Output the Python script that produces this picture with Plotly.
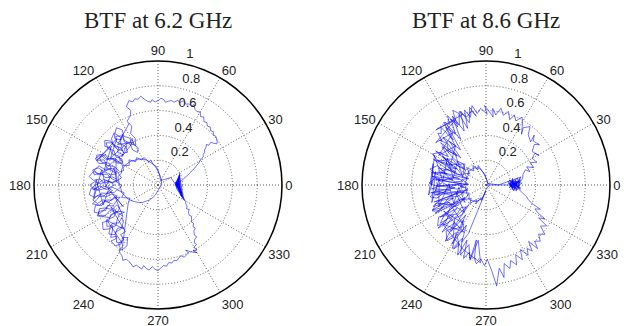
import plotly.graph_objects as go

# ---------------- data: BTF at 6.2 GHz  (theta in degrees, r) ----------------
blob_a_62 = [(0,0.14),(8,0.15),(-6,0.15),(15,0.16),(-12,0.17),(22,0.18),(-18,0.19),(5,0.15),(-24,0.21),(12,0.16),
             (-8,0.16),(28,0.2),(-2,0.14),(-28,0.23),(18,0.17),(-15,0.18),(3,0.16),(-21,0.2),(10,0.14),(-5,0.17),
             (25,0.19),(-30,0.24),(-10,0.15),(2,0.17),(-25,0.22)]
lower_right_62 = [(-28,0.24),(-31,0.26),(-34,0.27),(-36,0.29),(-40,0.30),(-38,0.32),(-42,0.33),(-44,0.35),(-43,0.37),
                  (-46,0.39),(-48,0.40),(-47,0.42),(-50,0.44),(-49,0.46),(-52,0.47),(-54,0.50),(-53,0.52),(-56,0.53),
                  (-58,0.55),(-57,0.57),(-60,0.58),(-59,0.61),(-62,0.60),(-60,0.63),(-64,0.60),(-67,0.57),(-66,0.60)]
bottom_62 = [(-68,0.61),(-70,0.62),(-72,0.60),(-74,0.61),(-76,0.63),(-78,0.62),(-80,0.64),(-82,0.63),(-84,0.66),
             (-86,0.65),(-88,0.67),(-90,0.69),(-92,0.68),(-94,0.66),(-96,0.69),(-98,0.68),(-100,0.66),(-101,0.69),
             (-103,0.68),(-105,0.67),(-107,0.69),(-109,0.67),(-111,0.66),(-113,0.65),(-115,0.67),(-117,0.64),
             (-119,0.63),(-121,0.61)]
band_a_62 = [(240,0.60),(236,0.57),(238,0.52),(233,0.50),(235,0.46),(230,0.44),(227,0.48),(229,0.53),(225,0.56),
             (222,0.52),(224,0.47),(220,0.43),(217,0.39),(219,0.35),(215,0.37),(212,0.42),(214,0.47),(210,0.51),
             (207,0.55),(204,0.52),(206,0.47),(202,0.44),(205,0.40),(201,0.36),(198,0.32),(196,0.37),(199,0.42),
             (195,0.46),(197,0.51),(193,0.54),(190,0.50),(192,0.45),(188,0.41),(190,0.36),(186,0.33),(183,0.37),
             (185,0.42),(181,0.47),(184,0.52),(180,0.55),(177,0.51),(179,0.46),(175,0.42),(177,0.37),(173,0.33),
             (170,0.37),(172,0.43),(168,0.47),(171,0.52),(167,0.54),(164,0.50),(166,0.45),(162,0.41),(164,0.36),
             (160,0.34),(157,0.38),(159,0.44),(155,0.48),(158,0.53),(154,0.55),(151,0.51),(153,0.46),(149,0.42),
             (151,0.38),(147,0.36),(144,0.40),(146,0.45),(142,0.49),(144,0.53),(140,0.56),(137,0.52),(139,0.47),
             (135,0.43),(137,0.38),(133,0.36),(130,0.40),(132,0.45),(128,0.49),(130,0.54),(126,0.57),(123,0.53),
             (125,0.48),(121,0.44),(123,0.39),(119,0.37),(116,0.42),(118,0.47),(114,0.52),(116,0.57),(112,0.60),
             (110,0.64),(112,0.68),(109,0.72)]
top_62 = [(107,0.70),(105,0.72),(103,0.71),(101,0.73),(99,0.70),(97,0.68),(95,0.67),(94,0.69),(92,0.67),(90,0.68),
          (88,0.70),(86,0.69),(85,0.67),(83,0.68),(81,0.69),(79,0.68),(77,0.70),(75,0.69),(73,0.71),(71,0.69),
          (69,0.70),(67,0.69),(66,0.71),(64,0.68),(62,0.67),(60,0.68),(58,0.65),(56,0.66),(54,0.63),(52,0.64),
          (50,0.62),(48,0.63),(46,0.61),(44,0.62),(42,0.60),(40,0.61),(38,0.60),(36,0.59),(35,0.58),(37,0.56),
          (39,0.55),(38,0.52),(40,0.51),(38,0.49),(37,0.47),(35,0.46),(34,0.44),(32,0.43),(31,0.41),(30,0.39),
          (28,0.37),(27,0.35),(25,0.33),(23,0.30),(21,0.28),(18,0.25),(16,0.23),(13,0.21),(10,0.19)]
blob_b_62 = [(8,0.17),(-3,0.15),(14,0.17),(-10,0.17),(20,0.18),(1,0.14),(-16,0.19),(6,0.16),(-22,0.21),(11,0.15),
             (-7,0.16),(-27,0.22),(4,0.15),(-13,0.18),(17,0.17),(-1,0.15),(24,0.19),(-19,0.2),(30,0.12),(45,0.06)]
ring_a_62 = [(60,0.04),(80,0.08),(92,0.12),(100,0.16),(108,0.19),(114,0.22),(120,0.24),(126,0.26),(132,0.27),
             (138,0.29),(144,0.30),(150,0.31),(156,0.32),(162,0.31),(168,0.33),(174,0.32),(180,0.31),(186,0.30),
             (192,0.30),(198,0.28),(204,0.27),(210,0.25),(216,0.23),(222,0.21),(228,0.19),(234,0.16),(240,0.14),
             (248,0.11),(256,0.08),(266,0.05),(290,0.03),(20,0.03),(55,0.05)]
ring_b_62 = [(75,0.07),(88,0.11),(95,0.15),(103,0.17),(106,0.21),(112,0.20),(117,0.25),(123,0.24),(128,0.28),
             (134,0.26),(139,0.31),(146,0.28),(151,0.33),(157,0.30),(163,0.34),(169,0.30),(175,0.34),(181,0.29),
             (187,0.33),(193,0.28),(199,0.31),(205,0.25),(211,0.28)]
band_b_62 = [(241,0.60),(243,0.55),(240,0.49),(236,0.51),(238,0.56),(235,0.60),(230,0.59),(232,0.55),(228,0.51),
             (230,0.46),(227,0.41),(222,0.39),(224,0.44),(220,0.48),(222,0.53),(219,0.57),(214,0.54),(216,0.49),
             (212,0.45),(214,0.40),(211,0.36),(206,0.37),(208,0.42),(204,0.46),(206,0.52),(203,0.56),(198,0.53),
             (200,0.48),(196,0.44),(198,0.39),(195,0.34),(191,0.38),(193,0.43),(189,0.47),(191,0.52),(188,0.56),
             (183,0.54),(185,0.49),(181,0.45),(183,0.39),(180,0.35),(176,0.39),(178,0.44),(174,0.47),(176,0.52),
             (173,0.56),(168,0.53),(170,0.49),(166,0.44),(168,0.39),(165,0.35),(160,0.38),(162,0.43),(158,0.46),
             (160,0.51),(157,0.55),(152,0.52),(154,0.47),(150,0.43),(152,0.38),(149,0.33),(144,0.36),(146,0.41),
             (142,0.45),(144,0.50),(141,0.54),(137,0.50),(139,0.44),(136,0.40),(132,0.44),(134,0.48),(131,0.52),
             (126,0.49),(128,0.44),(124,0.40),(126,0.35),(122,0.31),(118,0.34)]
band_c_62 = [(121,0.38),(119,0.43),(124,0.41),(127,0.45),(125,0.50),(129,0.47),(133,0.51),(130,0.55),(135,0.53),
             (138,0.49),(136,0.44),(141,0.42),(139,0.37),(144,0.39),(147,0.34),(150,0.36),(148,0.41),(153,0.44),
             (150,0.49),(155,0.52),(158,0.49),(156,0.43),(161,0.40),(164,0.44),(162,0.50),(167,0.53),(170,0.48),
             (168,0.42),(172,0.38),(175,0.33),(177,0.38),(174,0.44),(179,0.49),(182,0.53),(185,0.48),(183,0.41),
             (187,0.37),(190,0.40),(188,0.46),(193,0.50),(196,0.55),(199,0.50),(197,0.45),(201,0.41),(204,0.45),
             (202,0.51),(207,0.54),(210,0.49),(208,0.44),(212,0.40),(216,0.44),(214,0.50),(219,0.53),(222,0.49),
             (225,0.52),(228,0.57),(231,0.53),(234,0.57),(238,0.55)]
band_d_62 = [(215,0.50),(232,0.45),(205,0.42),(222,0.38),(195,0.36),(212,0.33),(185,0.40),(200,0.47),(175,0.50),
             (192,0.53),(165,0.47),(182,0.42),(158,0.38),(172,0.34),(148,0.40),(165,0.45),(140,0.49),(158,0.53),
             (132,0.50),(150,0.44),(126,0.42),(142,0.37),(120,0.40),(135,0.46),(115,0.55)]

# ---------------- data: BTF at 8.6 GHz ----------------
start_86 = [(0,0.0),(0,0.18)]
blob_a_86 = [(4,0.2),(-6,0.24),(10,0.22),(-3,0.19),(7,0.27),(-9,0.21),(2,0.25),(12,0.19),(-5,0.28),(5,0.18),
             (-11,0.25),(8,0.24),(0,0.21),(-7,0.19),(13,0.26),(-2,0.27),(6,0.2),(-10,0.22),(3,0.29),(9,0.21),
             (-4,0.23),(11,0.28),(-8,0.26),(1,0.19),(-12,0.23),(7,0.25),(-1,0.22),(14,0.22),(-6,0.21),(4,0.27),
             (10,0.3)]
right_up_86 = [(16,0.31),(21,0.34),(17,0.37),(24,0.36),(20,0.41),(27,0.40),(24,0.45),(30,0.43),(33,0.47),(29,0.49),
               (36,0.46),(40,0.51),(37,0.54),(43,0.52),(46,0.56),(44,0.50),(50,0.53),(53,0.59),(57,0.55),(55,0.50),
               (59,0.57),(62,0.62),(65,0.57),(68,0.61),(70,0.56),(73,0.62),(76,0.58),(79,0.63),(82,0.57),(85,0.62),
               (84,0.55),(88,0.60),(91,0.64),(89,0.57),(94,0.62)]
top_left_86 = [(97,0.58),(100,0.65),(103,0.56),(106,0.63),(108,0.48),(111,0.62),(114,0.66),(116,0.52),(119,0.64),
               (121,0.57),(124,0.61),(126,0.45),(128,0.59),(131,0.55),(133,0.57),(135,0.5)]
band_a_86 = [(136,0.52),(133,0.46),(138,0.41),(135,0.35),(140,0.30),(137,0.25),(143,0.22),(146,0.28),(142,0.34),
             (148,0.39),(144,0.45),(150,0.50),(153,0.44),(149,0.38),(155,0.33),(151,0.27),(157,0.21),(160,0.26),
             (156,0.32),(162,0.37),(158,0.42),(164,0.47),(167,0.42),(163,0.36),(169,0.30),(165,0.24),(171,0.19),
             (174,0.25),(170,0.31),(176,0.36),(172,0.41),(178,0.46),(181,0.41),(177,0.35),(183,0.29),(179,0.23),
             (185,0.18),(188,0.24),(184,0.30),(190,0.35),(186,0.41),(192,0.46),(195,0.41),(191,0.35),(197,0.29),
             (193,0.23),(199,0.19),(202,0.25),(198,0.31),(204,0.37),(200,0.43),(206,0.48),(209,0.43),(205,0.37),
             (211,0.31),(207,0.25),(213,0.21),(216,0.28),(212,0.34),(218,0.40),(214,0.46),(220,0.51),(223,0.45),
             (219,0.39),(225,0.33),(222,0.27),(228,0.24),(231,0.31),(227,0.37),(233,0.43),(229,0.49),(235,0.55),
             (238,0.50),(234,0.44),(240,0.39),(237,0.34),(243,0.40),(240,0.47),(246,0.53),(243,0.58)]
bottom_86 = [(245,0.52),(248,0.61),(251,0.47),(253,0.62),(256,0.56),(258,0.61),(260,0.45),(261,0.60),(263,0.64),
             (266,0.60),(269,0.65),(271,0.60),(274,0.70),(276,0.82),(279,0.68),(281,0.76),(283,0.65),(286,0.70)]
lower_right_86 = [(288,0.64),(291,0.69),(293,0.61),(296,0.67),(298,0.59),(301,0.66),(303,0.61),(305,0.65),(307,0.57),
                  (309,0.66),(311,0.60),(314,0.63),(317,0.58),(320,0.62),(323,0.55),(326,0.59),(328,0.50),(330,0.55),
                  (332,0.47),(334,0.44),(336,0.48),(338,0.40),(341,0.36),(344,0.34),(348,0.30)]
blob_b_86 = [(352,0.27),(5,0.23),(-4,0.2),(8,0.28),(-9,0.25),(2,0.19),(11,0.24),(-3,0.26),(6,0.21),(-7,0.28),
             (1,0.24),(9,0.18),(-5,0.22),(13,0.29),(0,0.1)]
ring_a_86 = [(40,0.02),(95,0.07),(103,0.1),(108,0.13),(114,0.15),(120,0.16),(127,0.17),(135,0.17),(143,0.18),
             (150,0.16),(158,0.17),(165,0.16),(172,0.17),(180,0.16),(188,0.17),(196,0.16),(204,0.17),(212,0.16),
             (220,0.18),(228,0.17),(235,0.16),(241,0.15),(247,0.13),(252,0.12),(257,0.09),(262,0.06),(275,0.03),
             (330,0.02)]
ring_b_86 = [(80,0.04),(97,0.09),(106,0.12),(112,0.17),(118,0.14),(124,0.19),(131,0.15),(138,0.21),(145,0.16),
             (152,0.2),(160,0.15),(167,0.2),(175,0.15),(183,0.21),(190,0.15),(198,0.2),(206,0.15),(214,0.21),
             (222,0.16),(229,0.2),(236,0.14),(242,0.17),(248,0.11),(254,0.13),(260,0.07),(268,0.05)]
band_b_86 = [(250,0.42),(247,0.50),(244,0.36),(240,0.55),(236,0.29),(233,0.47),(229,0.21),(226,0.40),(222,0.52),
             (219,0.30),(215,0.45),(212,0.20),(208,0.38),(205,0.48),(202,0.28),(198,0.44),(195,0.15),(191,0.33),
             (188,0.45),(185,0.25),(181,0.40),(178,0.14),(175,0.31),(171,0.44),(168,0.22),(164,0.38),(161,0.16),
             (158,0.34),(154,0.47),(151,0.27),(147,0.42),(144,0.20),(140,0.37),(137,0.50),(133,0.30),(130,0.46),
             (126,0.35),(123,0.58),(119,0.42),(116,0.62),(112,0.47),(109,0.63),(105,0.52),(102,0.64),(98,0.56)]
band_c_86 = [(101,0.61),(106,0.57),(110,0.63),(114,0.53),(118,0.60),(121,0.48),(125,0.57),(128,0.40),(132,0.52),
             (135,0.33),(139,0.47),(143,0.38),(146,0.49),(150,0.31),(153,0.44),(157,0.26),(160,0.40),(164,0.33),
             (167,0.45),(171,0.27),(174,0.41),(177,0.20),(181,0.37),(184,0.44),(188,0.29),(191,0.42),(195,0.22),
             (198,0.39),(202,0.46),(205,0.33),(209,0.47),(212,0.26),(216,0.42),(220,0.48),(223,0.36),(227,0.52),
             (230,0.40),(234,0.56),(238,0.45),(242,0.58),(246,0.47),(250,0.60),(254,0.50),(258,0.62),(262,0.45),
             (266,0.63)]
band_d_86 = [(250,0.55),(222,0.47),(245,0.42),(212,0.40),(238,0.36),(205,0.33),(232,0.28),(195,0.25),(220,0.22),
             (185,0.22),(210,0.30),(178,0.30),(205,0.42),(172,0.38),(198,0.46),(165,0.42),(190,0.47),(158,0.46),
             (180,0.44),(150,0.48),(175,0.35),(145,0.38),(168,0.27),(140,0.30),(160,0.20),(135,0.24),(150,0.33),
             (128,0.40),(148,0.45),(122,0.50),(140,0.53),(115,0.58),(132,0.60),(108,0.60)]

titles = ["BTF at 6.2 GHz", "BTF at 8.6 GHz"]
angle_ticks = [0, 30, 60, 90, 120, 150, 180, 210, 240, 270, 300, 330]
radius_ticks = [0.2, 0.4, 0.6, 0.8, 1]
radius_labels = ["0.2", "0.4", "0.6", "0.8", "1"]

path_62 = (blob_a_62 + lower_right_62 + bottom_62 + band_a_62 + top_62 + blob_b_62
           + ring_a_62 + ring_b_62 + band_b_62 + band_c_62 + band_d_62)
path_86 = (start_86 + blob_a_86 + right_up_86 + top_left_86 + band_a_86 + bottom_86 + lower_right_86
           + blob_b_86 + ring_a_86 + ring_b_86 + band_b_86 + band_c_86 + band_d_86)

fig = go.Figure()
for path, sub in [(path_62, "polar"), (path_86, "polar2")]:
    fig.add_trace(go.Scatterpolar(
        theta=[p[0] for p in path], r=[p[1] for p in path], mode="lines",
        line=dict(color="rgba(0,0,255,0.8)", width=0.7),
        subplot=sub, showlegend=False, hoverinfo="skip"))
# empty traces so the label-only overlay subplots are drawn
for sub in ["polar3", "polar4"]:
    fig.add_trace(go.Scatterpolar(r=[], theta=[], mode="lines", subplot=sub,
                                  showlegend=False, hoverinfo="skip"))

tick_font = dict(family="Liberation Sans, Arial, sans-serif", size=13, color="#222")
grid_col = "rgb(95,95,95)"
R_PIX = 124          # plot radius in pixels
CX = [158, 486]      # centres (pixels from left)
CY = 185             # centre (pixels from top)
W, H = 624, 326
LABEL_LIFT = 0.095   # radial labels sit a little outside their ring, as in MATLAB

def dom(cx, rad):
    return dict(x=[(cx - rad) / W, (cx + rad) / W], y=[(H - CY - rad) / H, (H - CY + rad) / H])

def polar_layout(cx):
    return dict(
        domain=dom(cx, R_PIX),
        bgcolor="white",
        radialaxis=dict(range=[0, 1], tickmode="array", tickvals=radius_ticks, showticklabels=False,
                        showline=False, ticks="", gridcolor=grid_col, griddash="1px,2px", gridwidth=1),
        angularaxis=dict(tickmode="array", tickvals=angle_ticks, ticktext=[str(a) for a in angle_ticks],
                         direction="counterclockwise", rotation=0, showline=True, linecolor="black",
                         linewidth=1.5, gridcolor=grid_col, griddash="1px,2px", gridwidth=1, ticks="",
                         tickfont=tick_font, layer="below traces"),
    )

def label_layout(cx):
    top = 1 + LABEL_LIFT
    return dict(
        domain=dom(cx, R_PIX * top),
        bgcolor="rgba(0,0,0,0)",
        radialaxis=dict(range=[0, top], tickmode="array", tickvals=[v + LABEL_LIFT for v in radius_ticks],
                        ticktext=radius_labels, angle=81, tickangle=81, side="clockwise", showline=False,
                        ticks="", showgrid=False, tickfont=tick_font),
        angularaxis=dict(visible=False),
    )

fig.update_layout(
    width=W, height=H, autosize=False,
    margin=dict(l=0, r=0, t=0, b=0),
    paper_bgcolor="white", plot_bgcolor="white",
    polar=polar_layout(CX[0]),
    polar2=polar_layout(CX[1]),
    polar3=label_layout(CX[0]),
    polar4=label_layout(CX[1]),
    annotations=[
        dict(text=titles[i], x=CX[i] / W, y=0.936, xref="paper", yref="paper", showarrow=False,
             xanchor="center", yanchor="middle",
             font=dict(family="Liberation Serif, Times New Roman, serif", size=23, color="#222"))
        for i in range(2)
    ],
)

fig.write_html("out.html", config={"displayModeBar": False},
               post_script="document.body.style.margin='0';document.body.style.overflow='hidden';")
